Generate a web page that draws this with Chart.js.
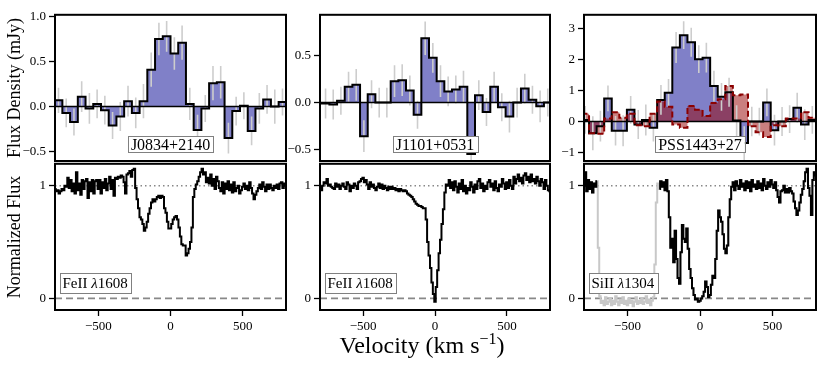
<!DOCTYPE html>
<html>
<head>
<meta charset="utf-8">
<script src="https://cdn.jsdelivr.net/npm/chart.js@4.4.1/dist/chart.umd.min.js"></script>
<style>
  body { margin: 0; background: #fff; }
  #fig { position: relative; width: 831px; height: 367px; overflow: hidden; background: #fff;
         font-family: 'Liberation Serif', 'Times New Roman', serif; }
  #fig canvas { position: absolute; }
  #xlab { position: absolute; left: 322px; width: 200px; top: 333px; text-align: center;
          font-size: 24px; line-height: 24px; color: #000; white-space: nowrap; }
  #xlab sup { font-size: 16px; vertical-align: baseline; position: relative; top: -9px; }
</style>
</head>
<body>
<div id="fig">
  <canvas id="fluxA"></canvas>
  <canvas id="fluxB"></canvas>
  <canvas id="fluxC"></canvas>
  <canvas id="normA"></canvas>
  <canvas id="normB"></canvas>
  <canvas id="normC"></canvas>
  <div id="xlab">Velocity (km s<sup>−1</sup>)</div>
</div>
<script>
// ---- data ----
const velMin = -800, velMax = 800;
const ticksVel = [-500, 0, 500];

// top row: binned CO flux density (mJy), bins given by start + width
const binStartA = -802.5, binWidthA = 53.5;
const valsA = [0.07, -0.07, -0.17, 0.11, -0.02, 0.03, -0.04, -0.21, -0.11, 0.06,
               -0.07, 0.06, 0.41, 0.75, 0.78, 0.59, 0.71, 0.03, -0.26, -0.02,
               0.26, 0.27, -0.35, -0.05, 0.01, -0.27, -0.02, 0.08, 0.00, 0.05];
const errA = [0.14, 0.16, 0.15, 0.17, 0.17, 0.16, 0.16, 0.15, 0.16, 0.17,
              0.17, 0.19, 0.19, 0.18, 0.17, 0.18, 0.19, 0.18, 0.17, 0.15,
              0.19, 0.18, 0.17, 0.16, 0.15, 0.16, 0.17, 0.16, 0.19, 0.15];
const ticksA = [-0.5, 0, 0.5, 1.0];

const binStartB = -841.2, binWidthB = 53.3;
const valsB = [-0.01, -0.01, -0.02, 0.02, 0.17, 0.19, -0.36, 0.09, 0.00, 0.00,
               0.23, 0.24, 0.13, -0.13, 0.69, 0.48, 0.23, 0.12, 0.14, 0.17,
               -0.55, 0.08, -0.10, 0.17, -0.05, -0.15, 0.00, 0.15, 0.03, -0.04, 0.00];
const errB = [0.15, 0.16, 0.16, 0.15, 0.16, 0.17, 0.17, 0.15, 0.16, 0.16,
              0.17, 0.17, 0.16, 0.15, 0.18, 0.16, 0.17, 0.16, 0.15, 0.17,
              0.18, 0.16, 0.15, 0.16, 0.15, 0.17, 0.16, 0.16, 0.15, 0.17, 0.15];
const ticksB = [-0.5, 0, 0.5];

const binStartC = -817.4, binWidthC = 52.2;
const valsC = [0.05, -0.38, -0.15, 0.75, -0.30, -0.30, 0.38, -0.10, 0.05, -0.20,
               0.70, 0.93, 2.40, 2.80, 2.57, 2.02, 2.07, 1.15, 0.80, 0.95,
               0.03, -0.70, 0.00, 0.00, 0.62, -0.28, 0.00, 0.08, 0.45, -0.10, 0.05];
const errC = [0.45, 0.55, 0.50, 0.42, 0.48, 0.50, 0.45, 0.47, 0.50, 0.45,
              0.48, 0.45, 0.50, 0.45, 0.47, 0.45, 0.48, 0.50, 0.45, 0.47,
              0.50, 0.55, 0.48, 0.45, 0.45, 0.50, 0.47, 0.45, 0.48, 0.50, 0.45];
const valsC2 = [0.25, -0.38, -0.40, 0.10, 0.30, 0.12, 0.25, -0.12, -0.15, 0.25,
                0.65, 0.48, -0.10, -0.20, 0.50, 0.38, 0.18, 0.60, 0.72, 1.15,
                0.85, 0.88, -0.15, -0.35, -0.50, -0.12, -0.15, 0.10, 0.10, 0.30, 0.12];
const ticksC = [-1, 0, 1, 2, 3];

// bottom row: normalized spectra, one value per 10 km/s from -800
const specStart = -800, specStep = 10;
const normA = [
  0.97, 0.95, 0.96, 0.93, 0.95, 0.97, 0.96, 1.00, 0.99, 1.07,
  0.98, 1.05, 0.95, 1.02, 0.93, 1.12, 0.96, 1.02, 0.92, 1.05,
  0.97, 1.04, 1.06, 0.89, 1.03, 0.95, 1.05, 0.93, 1.04, 1.05,
  0.97, 1.05, 0.93, 1.03, 0.98, 1.06, 0.96, 1.02, 1.08, 0.97,
  1.05, 0.91, 1.07, 1.06, 1.08, 1.07, 1.09, 1.08, 1.03, 0.93,
  1.10, 1.11, 1.13, 1.08, 1.14, 1.15, 0.98, 0.88, 0.80, 0.72,
  0.70, 0.66, 0.60, 0.63, 0.68, 0.75, 0.80, 0.85, 0.88, 0.86,
  0.88, 0.90, 0.91, 0.89, 0.91, 0.90, 0.80, 0.76, 0.68, 0.62,
  0.62, 0.66, 0.70, 0.72, 0.73, 0.70, 0.63, 0.55, 0.48, 0.47,
  0.47, 0.38, 0.40, 0.44, 0.50, 0.63, 0.90, 0.97, 1.01, 1.04,
  1.08, 1.12, 1.15, 1.10, 1.12, 1.03, 1.07, 1.02, 1.10, 1.00,
  1.06, 0.97, 1.08, 1.04, 0.98, 0.95, 1.03, 0.93, 1.02, 0.97,
  1.04, 0.96, 1.01, 0.94, 1.03, 0.95, 0.98, 1.00, 0.93, 0.96,
  0.99, 1.02, 0.97, 1.00, 0.96, 1.03, 0.98, 0.93, 0.88, 0.92,
  0.95, 0.98, 1.01, 0.97, 1.03, 0.99, 0.95, 1.01, 0.97, 1.01,
  0.98, 0.96, 1.00, 0.98, 1.01, 0.97, 1.02, 1.03, 0.98, 1.02,
  1.00];
const normB = [
  0.99, 0.96, 1.00, 1.03, 1.02, 1.06, 1.00, 1.01, 0.99, 0.98,
  0.97, 1.02, 0.99, 1.01, 0.97, 1.00, 1.02, 0.99, 0.97, 1.03,
  1.01, 0.95, 1.00, 0.98, 1.02, 1.00, 0.97, 1.03, 1.04, 1.06,
  1.07, 1.03, 1.05, 1.01, 0.97, 1.03, 0.99, 1.01, 0.98, 0.96,
  0.99, 1.02, 0.98, 1.01, 0.97, 1.00, 0.98, 0.96, 0.99, 0.97,
  0.99, 0.97, 0.98, 0.96, 0.97, 0.95, 0.97, 0.96, 0.95, 0.96,
  0.95, 0.93, 0.92, 0.91, 0.90, 0.88, 0.86, 0.84, 0.83, 0.82,
  0.82, 0.81, 0.80, 0.80, 0.70, 0.50, 0.38, 0.27, 0.14, 0.04,
  -0.03, 0.10, 0.25, 0.40, 0.52, 0.66, 0.79, 0.94, 1.01, 1.00,
  1.05, 0.98, 1.03, 0.96, 1.04, 0.99, 0.94, 1.02, 0.97, 1.05,
  0.95, 1.00, 0.93, 0.98, 0.96, 1.03, 0.99, 0.94, 1.01, 0.97,
  1.04, 1.06, 0.98, 1.02, 0.95, 1.00, 0.97, 1.03, 1.05, 0.99,
  1.02, 0.96, 1.04, 0.98, 0.95, 1.01, 0.99, 1.06, 1.02, 0.97,
  1.03, 0.98, 1.05, 1.00, 0.97, 1.08, 1.02, 1.06, 1.10, 1.04,
  1.07, 1.02, 1.09, 1.11, 1.05, 1.08, 1.03, 1.10, 1.04, 1.06,
  1.02, 1.08, 1.04, 1.00, 1.06, 1.03, 0.97, 1.05, 1.00, 0.96,
  0.95];
const normC = [
  1.00, 1.12, 0.95, 1.05, 0.97, 1.03, 0.94, 1.02, 0.99, 1.04,
  0.45, 0.02, -0.04, -0.02, -0.06, 0.01, -0.05, -0.03, 0.00, -0.06,
  -0.02, -0.05, 0.02, -0.03, -0.06, -0.01, -0.04, 0.01, -0.05, -0.02,
  -0.06, 0.00, -0.04, -0.02, -0.07, -0.03, 0.01, -0.05, -0.02, -0.04,
  0.00, -0.05, -0.03, 0.02, -0.04, -0.01, -0.06, -0.02, 0.01, 0.30,
  0.85, 1.02, 0.97, 1.04, 0.99, 1.03, 0.96, 1.05, 0.95, 0.72,
  0.45, 0.53, 0.32, 0.60, 0.35, 0.18, 0.13, 0.41, 0.65, 0.53,
  0.50, 0.62, 0.44, 0.26, 0.18, 0.09, 0.03, -0.01, 0.00, -0.03,
  -0.02, 0.00, 0.02, 0.06, 0.15, 0.10, 0.01, 0.03, 0.12, 0.20,
  0.18, 0.35, 0.60, 0.78, 0.72, 0.68, 0.57, 0.44, 0.40, 0.47,
  0.72, 0.88, 0.99, 1.03, 0.96, 1.04, 1.00, 0.97, 1.05, 0.99,
  1.02, 0.96, 1.04, 0.98, 1.03, 0.95, 1.05, 0.99, 1.01, 0.97,
  1.04, 0.98, 1.02, 0.96, 1.06, 1.00, 0.97, 1.03, 0.99, 1.05,
  1.01, 0.98, 1.03, 0.96, 0.90, 0.85, 0.95, 0.96, 1.00, 0.94,
  0.97, 0.94, 0.98, 0.95, 0.93, 0.86, 0.80, 0.74, 0.78, 0.85,
  0.92, 0.97, 1.04, 1.12, 1.15, 0.98, 0.91, 0.74, 1.05, 1.12,
  1.09];
const maskC = [-705, -285];   // blended region, shown in grey
const ticksNorm = [0, 1];

// ---- styling ----
const serif = "'Liberation Serif', 'Times New Roman', serif";
const tickFont = { family: serif, size: 13 };
const blue = '#8080c8';
const red = 'rgba(150, 0, 0, 0.5)';

function fmt(v, dec) {
  return (v < 0 ? '\u2212' : '') + Math.abs(v).toFixed(dec);
}

function stepData(start, width, vals) {
  const pts = vals.map((v, i) => ({ x: start + i * width, y: v }));
  pts.push({ x: start + vals.length * width, y: vals[vals.length - 1] });
  return pts;
}

function errData(start, width, vals, errs) {
  const pts = [];
  vals.forEach((v, i) => {
    const c = start + (i + 0.5) * width;
    pts.push({ x: c, y: v - errs[i] }, { x: c, y: v + errs[i] }, { x: c, y: null });
  });
  return pts;
}

function specData(vals, keep) {
  return vals.map((v, i) => {
    const x = specStart + i * specStep;
    return { x: x, y: keep && !keep(x) ? null : v };
  });
}

function hline(y, color, width, dash, order) {
  return { data: [{ x: velMin, y: y }, { x: velMax, y: y }], borderColor: color,
           borderWidth: width, borderDash: dash, order: order };
}

const framePlugin = {
  id: 'frame',
  afterDraw(chart) {
    const { ctx, chartArea: a } = chart;
    ctx.save();
    ctx.lineWidth = 2;
    ctx.strokeStyle = '#000';
    ctx.strokeRect(a.left, a.top, a.right - a.left, a.bottom - a.top);
    ctx.restore();
  }
};

// boxed label, parts = [[text, italic], ...]
function tagPlugin(spec) {
  return {
    id: 'tag',
    afterDatasetsDraw(chart) {
      const { ctx, chartArea: a } = chart;
      const fonts = spec.parts.map(p => (p[1] ? 'italic ' : '') + spec.size + 'px ' + serif);
      ctx.save();
      let w = 0;
      spec.parts.forEach((p, i) => { ctx.font = fonts[i]; w += ctx.measureText(p[0]).width; });
      const bw = w + 2 * spec.padX, bh = spec.height;
      const bx = spec.centered ? chart.scales.x.getPixelForValue(0) - bw / 2 : a.left + spec.inset;
      const by = a.bottom - spec.lift - bh;
      ctx.fillStyle = '#fff';
      ctx.fillRect(bx, by, bw, bh);
      ctx.strokeStyle = '#808080';
      ctx.lineWidth = 1;
      ctx.strokeRect(Math.round(bx) + 0.5, Math.round(by) + 0.5, Math.round(bw), Math.round(bh));
      ctx.fillStyle = '#000';
      ctx.textAlign = 'left';
      ctx.textBaseline = 'alphabetic';
      let x = bx + spec.padX;
      spec.parts.forEach((p, i) => {
        ctx.font = fonts[i];
        ctx.fillText(p[0], x, by + bh - spec.base);
        x += ctx.measureText(p[0]).width;
      });
      ctx.restore();
    }
  };
}

function makePanel(id, g, datasets, yRange, yTicks, dec, tag, yTitle) {
  const canvas = document.getElementById(id);
  const padTop = 10, padRight = 6, below = g.xAxis ? 30 : 12;
  canvas.width = g.yw + (g.r - g.l) + padRight;
  canvas.height = padTop + (g.b - g.t) + below;
  canvas.style.left = (g.l - g.yw) + 'px';
  canvas.style.top = (g.t - padTop) + 'px';

  const grid = { drawOnChartArea: false, drawTicks: true, tickLength: 6,
                 tickColor: '#000', tickWidth: 1.3, color: '#000' };

  return new Chart(canvas, {
    type: 'line',
    data: { datasets: datasets },
    options: {
      responsive: false,
      animation: false,
      events: [],
      layout: { padding: { left: 0, top: padTop, right: padRight, bottom: g.xAxis ? 0 : below } },
      elements: { point: { radius: 0 }, line: { tension: 0, borderJoinStyle: 'miter' } },
      plugins: {
        legend: { display: false },
        tooltip: { enabled: false },
        filler: { drawTime: 'beforeDatasetsDraw' }
      },
      scales: {
        x: {
          type: 'linear', min: velMin, max: velMax,
          display: !!g.xAxis,
          afterFit: s => { s.height = g.xAxis ? 30 : 0; },
          afterBuildTicks: s => { s.ticks = ticksVel.map(v => ({ value: v })); },
          ticks: { font: tickFont, color: '#000', padding: 3, maxRotation: 0,
                   callback: v => fmt(v, 0) },
          grid: grid,
          border: { display: false }
        },
        y: {
          type: 'linear', min: yRange[0], max: yRange[1],
          afterFit: s => { s.width = g.yw; },
          afterBuildTicks: s => { s.ticks = yTicks.map(v => ({ value: v })); },
          ticks: { font: tickFont, color: '#000', padding: 3, callback: v => fmt(v, dec) },
          grid: grid,
          border: { display: false },
          title: {
            display: !!yTitle, text: yTitle || '', color: '#000',
            font: { family: serif, size: 18 }, padding: { top: 4, bottom: 0 }
          }
        }
      }
    },
    plugins: [framePlugin, tagPlugin(tag)]
  });
}

// ---- panel geometry (chart area in page pixels) ----
const cols = [{ l: 55, r: 286, yw: 55 }, { l: 320, r: 550, yw: 40 }, { l: 584, r: 816, yw: 40 }];
const topRow = { t: 14, b: 161 };
const botRow = { t: 163, b: 310 };
const geo = (c, row, xAxis) => Object.assign({}, cols[c], row, { xAxis: xAxis });

const errGrey = '#cdcdcd';
const topTag = txt => ({ parts: [[txt, false]], size: 16, padX: 3, height: 16, base: 2.5, lift: 9, centered: true });
const botTag = (ion, wav) => ({ parts: [[ion + ' ', false], ['\u03bb', true], [wav, false]],
                                size: 15, padX: 3, height: 20, base: 5, lift: 17, inset: 4.5 });

// ---- top row ----
makePanel('fluxA', geo(0, topRow, false), [
  { data: stepData(binStartA, binWidthA, valsA), stepped: true, borderColor: '#000', borderWidth: 2,
    fill: 'origin', backgroundColor: blue, order: 1 },
  hline(0, '#000', 1.5, [], 5),
  { data: errData(binStartA, binWidthA, valsA, errA), borderColor: errGrey, borderWidth: 1.6, order: 6 }
], [-0.604, 1.019], ticksA, 1, topTag('J0834+2140'), 'Flux Density (mJy)');

makePanel('fluxB', geo(1, topRow, false), [
  { data: stepData(binStartB, binWidthB, valsB), stepped: true, borderColor: '#000', borderWidth: 2,
    fill: 'origin', backgroundColor: blue, order: 1 },
  hline(0, '#000', 1.5, [], 5),
  { data: errData(binStartB, binWidthB, valsB, errB), borderColor: errGrey, borderWidth: 1.6, order: 6 }
], [-0.626, 0.941], ticksB, 1, topTag('J1101+0531'));

makePanel('fluxC', geo(2, topRow, false), [
  { data: stepData(binStartC, binWidthC, valsC2), stepped: true, borderColor: '#8b0000', borderWidth: 2,
    borderDash: [6, 3], fill: 'origin', backgroundColor: red, order: 1 },
  { data: stepData(binStartC, binWidthC, valsC), stepped: true, borderColor: '#000', borderWidth: 2,
    fill: 'origin', backgroundColor: blue, order: 2 },
  hline(0, '#000', 1.5, [], 5),
  { data: errData(binStartC, binWidthC, valsC, errC), borderColor: errGrey, borderWidth: 1.6, order: 6 }
], [-1.28, 3.46], ticksC, 0, topTag('PSS1443+27'));

// ---- bottom row ----
makePanel('normA', geo(0, botRow, true), [
  { data: specData(normA), stepped: 'middle', borderColor: '#000', borderWidth: 2, order: 1 },
  hline(1, '#888', 1.5, [1.5, 3], 5),
  hline(0, '#888', 1.8, [7, 4], 5)
], [-0.103, 1.194], ticksNorm, 0, botTag('FeII', '1608'), 'Normalized Flux');

makePanel('normB', geo(1, botRow, true), [
  { data: specData(normB), stepped: 'middle', borderColor: '#000', borderWidth: 2, order: 1 },
  hline(1, '#888', 1.5, [1.5, 3], 5),
  hline(0, '#888', 1.8, [7, 4], 5)
], [-0.103, 1.194], ticksNorm, 0, botTag('FeII', '1608'));

makePanel('normC', geo(2, botRow, true), [
  { data: specData(normC, v => v <= maskC[0] || v >= maskC[1]), stepped: 'middle',
    borderColor: '#000', borderWidth: 2, order: 1 },
  { data: specData(normC), stepped: 'middle', borderColor: '#c8c8c8', borderWidth: 2, order: 2 },
  hline(1, '#888', 1.5, [1.5, 3], 5),
  hline(0, '#888', 1.8, [7, 4], 5)
], [-0.103, 1.194], ticksNorm, 0, botTag('SiII', '1304'));
</script>
</body>
</html>
